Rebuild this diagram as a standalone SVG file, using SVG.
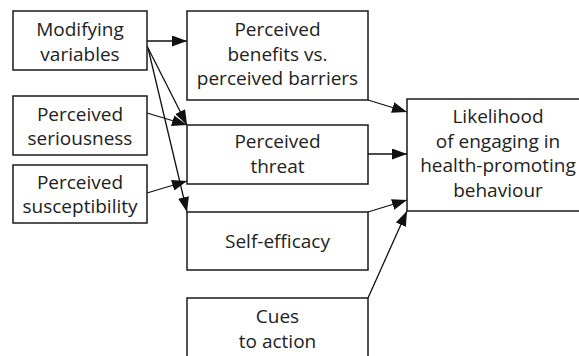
<svg xmlns="http://www.w3.org/2000/svg" width="579" height="356" viewBox="0 0 579 356">
<style>
.box rect{fill:#fff;stroke:#1a1a1a;stroke-width:1.5}
text{font-family:"Open Sans","Noto Sans",sans-serif;font-size:19px;fill:#222;text-anchor:middle}
.conn line{stroke:#111;stroke-width:1.3;marker-end:url(#ah)}
</style>
<defs>
<marker id="ah" viewBox="0 0 15 11" refX="15" refY="5.5" markerWidth="15" markerHeight="11" markerUnits="userSpaceOnUse" orient="auto">
<path d="M0,0 L15,5.5 L0,11 Z" fill="#111"/>
</marker>
</defs>
<rect width="579" height="356" fill="#fff"/>
<g class="conn">
<line x1="147" y1="41" x2="187" y2="41"/>
<line x1="147" y1="46" x2="187" y2="125"/>
<line x1="148" y1="48" x2="187" y2="212"/>
<line x1="147" y1="113" x2="187" y2="125"/>
<line x1="147" y1="193" x2="187" y2="181"/>
<line x1="368" y1="100" x2="407" y2="112"/>
<line x1="368" y1="154" x2="407" y2="154"/>
<line x1="368" y1="212" x2="407" y2="200"/>
<line x1="368" y1="298" x2="407" y2="211"/>
</g>
<g id="modifying" class="box"><rect x="13" y="11" width="134" height="59"/><text x="80" y="36">Modifying</text><text x="80" y="61">variables</text></g>
<g id="seriousness" class="box"><rect x="13" y="96" width="134" height="59"/><text x="80" y="121">Perceived</text><text x="80" y="145">seriousness</text></g>
<g id="susceptibility" class="box"><rect x="13" y="165" width="134" height="58"/><text x="80" y="189">Perceived</text><text x="80" y="213">susceptibility</text></g>
<g id="benefits" class="box"><rect x="187" y="11" width="181" height="89"/><text x="277.5" y="36">Perceived</text><text x="277.5" y="61">benefits vs.</text><text x="277.5" y="85">perceived barriers</text></g>
<g id="threat" class="box"><rect x="187" y="125" width="181" height="59"/><text x="277.5" y="148">Perceived</text><text x="277.5" y="173">threat</text></g>
<g id="selfefficacy" class="box"><rect x="187" y="212" width="181" height="58"/><text x="277.5" y="248">Self-efficacy</text></g>
<g id="cues" class="box"><rect x="187" y="298" width="181" height="70"/><text x="277.5" y="323">Cues</text><text x="277.5" y="348">to action</text></g>
<g id="likelihood" class="box"><rect x="407" y="99" width="183" height="112"/><text x="498" y="123">Likelihood</text><text x="498" y="148">of engaging in</text><text x="498" y="172">health-promoting</text><text x="498" y="197">behaviour</text></g>
</svg>
